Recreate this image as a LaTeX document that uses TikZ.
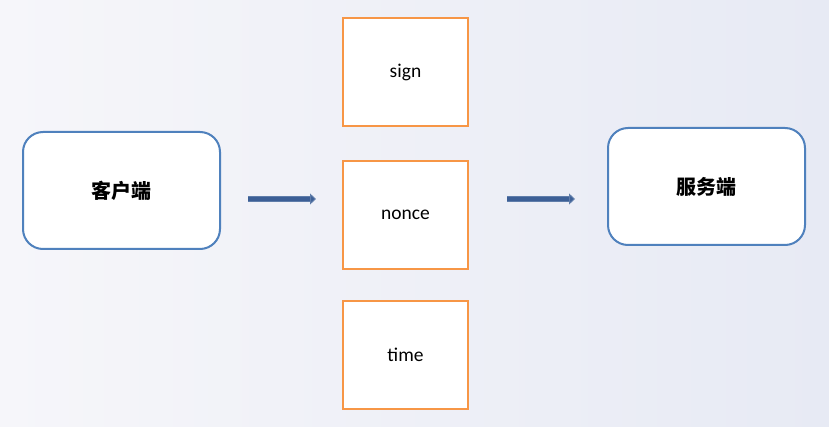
\documentclass[tikz,border=0pt]{standalone}
\usepackage{fontspec}
\setmainfont{Carlito}
\newfontfamily\cjk{Noto Sans CJK SC}
\usetikzlibrary{arrows.meta}
\definecolor{boxblue}{RGB}{79,129,189}
\definecolor{boxorange}{RGB}{247,150,70}
\definecolor{arrowblue}{RGB}{60,95,150}
\definecolor{arrowedge}{RGB}{95,125,170}
\definecolor{bgleft}{RGB}{246,246,250}
\definecolor{bgright}{RGB}{231,234,244}
\tikzset{
  endbox/.style={draw=boxblue,line width=2pt,fill=white,rounded corners=20pt,
    minimum width=197pt,minimum height=117pt,font=\cjk\bfseries\fontsize{20}{20}\selectfont},
  parambox/.style={draw=boxorange,line width=2pt,fill=white,
    minimum width=125pt,minimum height=108pt,font=\fontsize{19.5}{19.5}\selectfont},
  blockarrow/.style={draw=arrowedge,double=arrowblue,double distance=3.5pt,line width=1pt,
    -{Triangle[length=6pt,width=11pt,fill=arrowblue]}}
}
\begin{document}
\begin{tikzpicture}[x=1pt,y=-1pt]
                      \shade[left color=bgleft,right color=bgright] (0,0) rectangle (829,427);
                      \useasboundingbox (0,0) rectangle (829,427);
                      \node[endbox](client)at(121.5,190.5){客户端};
                      \node[endbox](server)at(706.5,186.5){服务端};
                      \node[parambox](sign)at(405.5,72){sign};
                      \node[parambox](nonce)at(405.5,215){nonce};
                      \node[parambox](time)at(405.5,355){time};
                      \coordinate (in1) at (248,199);
                      \coordinate (in2) at (316,199);
                      \coordinate (out1) at (507,199);
                      \coordinate (out2) at (575,199);
                      \draw[blockarrow] (in1) -- (in2);
                      \draw[blockarrow] (out1) -- (out2);
                  \end{tikzpicture}
\end{document}
